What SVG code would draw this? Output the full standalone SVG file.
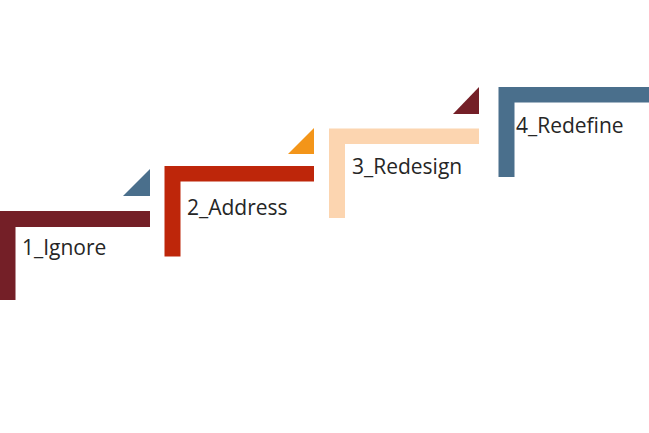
<svg xmlns="http://www.w3.org/2000/svg" width="649" height="433" viewBox="0 0 649 433">
<style>
.lbl{font-family:"Segoe UI","Open Sans","Noto Sans",sans-serif;font-size:21px;fill:#262626}
</style>
<rect width="649" height="433" fill="#fff"/>
<g id="step1">
<path d="M0 211H150V227H15.5V300H0Z" fill="#741F27"/>
<polygon points="123,196 150,196 150,169" fill="#4A6F8C"/>
<text class="lbl" x="22" y="255">1_Ignore</text>
</g>
<g id="step2">
<path d="M164.5 166H314V181.5H180.5V256.5H164.5Z" fill="#BE260A"/>
<polygon points="288,154 314,154 314,128" fill="#F39519"/>
<text class="lbl" x="187" y="215">2_Address</text>
</g>
<g id="step3">
<path d="M329 128.5H479V144H345V218H329Z" fill="#FCD5B0"/>
<polygon points="453,114 479,114 479,87" fill="#741F27"/>
<text class="lbl" x="352" y="174">3_Redesign</text>
</g>
<g id="step4">
<path d="M498.5 87H649V102.5H514.5V177H498.5Z" fill="#4A6F8C"/>
<text class="lbl" x="516" y="133">4_Redefine</text>
</g>
<g id="connectors"/>
</svg>
